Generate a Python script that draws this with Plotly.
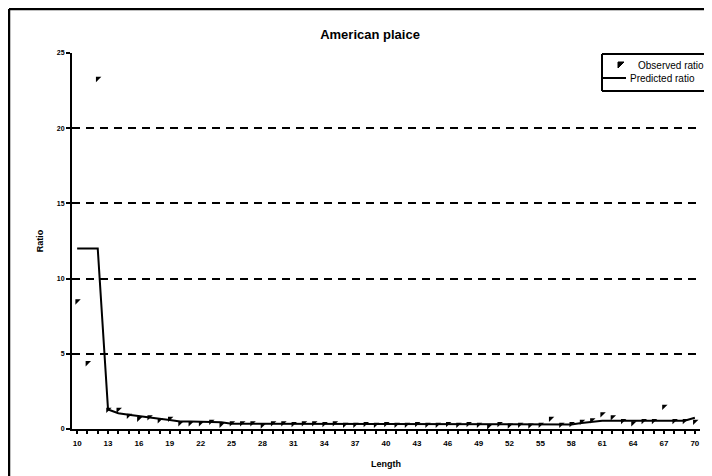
import plotly.graph_objects as go

lengths = list(range(10, 71))
observed = [8.5, 4.4, 23.3, 1.3, 1.3, 0.9, 0.7, 0.8, 0.6, 0.7,
            0.4, 0.4, 0.4, 0.5, 0.3, 0.4, 0.4, 0.4, 0.25, 0.4,
            0.4, 0.35, 0.4, 0.4, 0.35, 0.4, 0.3, 0.3, 0.35, 0.3,
            0.35, 0.3, 0.3, 0.35, 0.3, 0.3, 0.35, 0.3, 0.35, 0.3,
            0.2, 0.35, 0.25, 0.3, 0.25, 0.3, 0.7, 0.3, 0.35, 0.5,
            0.6, 1.0, 0.8, 0.55, 0.4, 0.55, 0.55, 1.5, 0.55, 0.55,
            0.5]
predicted = [12, 12, 12, 1.3, 1.05, 0.95, 0.85, 0.75, 0.68, 0.6,
             0.5, 0.5, 0.5, 0.5, 0.45, 0.35, 0.35, 0.35, 0.35, 0.35,
             0.3, 0.3, 0.3, 0.3, 0.3, 0.3, 0.3, 0.3, 0.3, 0.3,
             0.3, 0.3, 0.3, 0.3, 0.3, 0.3, 0.3, 0.3, 0.3, 0.3,
             0.3, 0.3, 0.3, 0.3, 0.3, 0.3, 0.3, 0.3, 0.3, 0.4,
             0.5, 0.55, 0.55, 0.55, 0.55, 0.55, 0.55, 0.55, 0.55, 0.55,
             0.75]
x_ticks = list(range(10, 71, 3))
y_ticks = [0, 5, 10, 15, 20, 25]
legend_labels = ["Observed ratio", "Predicted ratio"]

FONT = "Liberation Sans, Arial, sans-serif"

# The page body adds an 8px offset; work in reference-pixel coordinates.
OFF = 8
W, H = 712, 476
ml = 72 - OFF
mt = 53 - OFF
pw = 628
ph = 376
mr = W - ml - pw
mb = H - mt - ph


def px_x(p):
    return (p - OFF - ml) / pw


def px_y(p):
    return (mt + ph - (p - OFF)) / ph


fig = go.Figure()
fig.add_trace(go.Scatter(
    x=lengths, y=observed, mode="markers", name=legend_labels[0],
    marker=dict(symbol="triangle-nw", size=6, color="black"),
    showlegend=False,
))
fig.add_trace(go.Scatter(
    x=lengths, y=predicted, mode="lines", name=legend_labels[1],
    line=dict(color="black", width=2),
    showlegend=False,
))

fig.update_layout(
    width=W, height=H,
    margin=dict(l=ml, r=mr, t=mt, b=mb, pad=0),
    paper_bgcolor="white", plot_bgcolor="white",
    font=dict(family=FONT, color="black"),
    title=dict(text="American plaice", x=(370 - OFF) / W, xanchor="center",
               y=1 - (34 - OFF) / H, yanchor="middle",
               font=dict(size=13, weight="bold", family=FONT)),
    xaxis=dict(range=[9.5, 70.5], tickvals=x_ticks, ticktext=[str(v) for v in x_ticks],
               showline=True, linecolor="black", linewidth=2, mirror=False,
               ticks="outside", ticklen=3, tickwidth=2, tickcolor="black",
               minor=dict(dtick=1, tick0=10, ticks="outside", ticklen=3, tickwidth=2, tickcolor="black"),
               showgrid=False, zeroline=False, ticklabelstandoff=2,
               tickfont=dict(size=8, weight="bold", family=FONT),
               title=dict(text="Length", font=dict(size=9, weight="bold", family=FONT), standoff=14)),
    yaxis=dict(range=[0, 25], tickvals=y_ticks, ticktext=[str(v) for v in y_ticks],
               showline=True, linecolor="black", linewidth=2,
               ticks="outside", ticklen=4, tickwidth=2, tickcolor="black",
               showgrid=True, gridcolor="black", gridwidth=2, griddash="8px,6px",
               zeroline=False,
               tickfont=dict(size=7, weight="bold", family=FONT),
               title=dict(text="Ratio", font=dict(size=9, weight="bold", family=FONT), standoff=12)),
)

# outer chart frame (only left and top edges are visible in the original)
fig.add_shape(type="line", xref="paper", yref="paper",
              x0=px_x(9), x1=px_x(9), y0=px_y(490), y1=px_y(9),
              line=dict(color="black", width=2.5), layer="below")
fig.add_shape(type="line", xref="paper", yref="paper",
              x0=px_x(9), x1=px_x(730), y0=px_y(9), y1=px_y(9),
              line=dict(color="black", width=2.5), layer="below")

# legend box, running off the chart edge as in the original
fig.add_shape(type="rect", xref="paper", yref="paper",
              x0=px_x(602), x1=px_x(730), y0=px_y(91), y1=px_y(54),
              line=dict(width=0), fillcolor="white", layer="above")
for yy in (54, 91):
    fig.add_shape(type="line", xref="paper", yref="paper",
                  x0=px_x(602), x1=px_x(730), y0=px_y(yy), y1=px_y(yy),
                  line=dict(color="black", width=2), layer="above")
fig.add_shape(type="line", xref="paper", yref="paper",
              x0=px_x(602), x1=px_x(602), y0=px_y(91), y1=px_y(54),
              line=dict(color="black", width=2), layer="above")
# legend marker sample
fig.add_shape(type="path", xref="paper", yref="paper",
              path="M {0},{1} L {2},{1} L {0},{3} Z".format(px_x(618), px_y(62), px_x(624), px_y(68)),
              line=dict(color="black", width=1), fillcolor="black", layer="above")
# legend line sample
fig.add_shape(type="line", xref="paper", yref="paper",
              x0=px_x(603), x1=px_x(626), y0=px_y(78), y1=px_y(78),
              line=dict(color="black", width=2), layer="above")
fig.add_annotation(text=legend_labels[0], xref="paper", yref="paper",
                   x=px_x(636), y=px_y(65), xanchor="left", yanchor="middle",
                   showarrow=False, font=dict(size=10, family=FONT))
fig.add_annotation(text=legend_labels[1], xref="paper", yref="paper",
                   x=px_x(628), y=px_y(78), xanchor="left", yanchor="middle",
                   showarrow=False, font=dict(size=10, family=FONT))

fig.write_html("out.html", config={"displayModeBar": False})
